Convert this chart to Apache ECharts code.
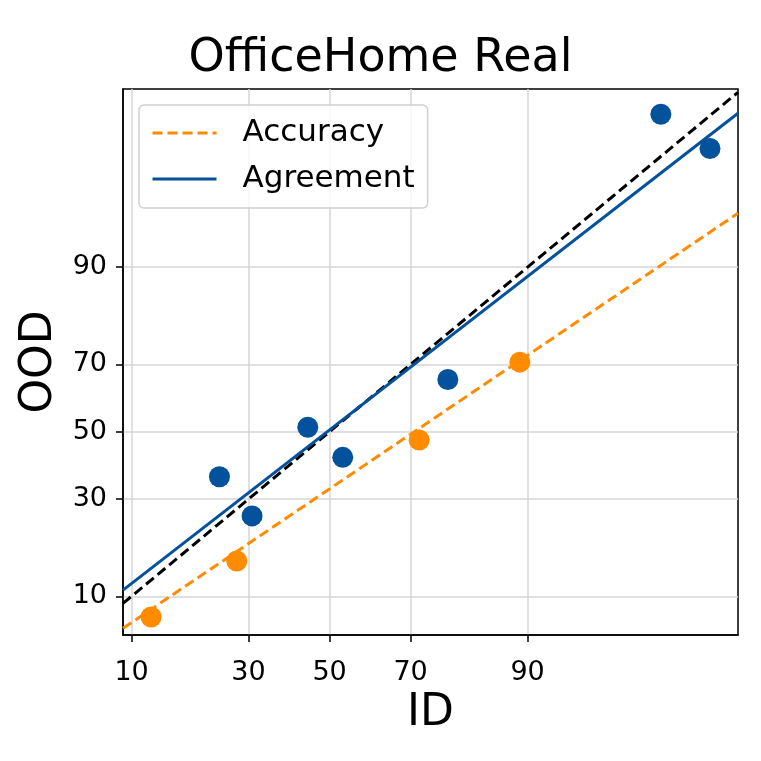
<!DOCTYPE html>
<html>
<head>
<meta charset="utf-8">
<script src="https://cdn.jsdelivr.net/npm/echarts@6/dist/echarts.min.js"></script>
<style>
  html, body { margin: 0; padding: 0; background: #fff; }
  #chart { width: 761px; height: 761px; }
</style>
</head>
<body>
<div id="chart"></div>
<script>
// values in percent, axes use a probit scale
var tickLabels = [10, 30, 50, 70, 90];
var xRange = [9.06, 99.59];
var yRange = [5.67, 99.62];

var agreeID  = [23.8, 30.8, 44.4, 53.4, 77.8, 98.4, 99.31];
var agreeOOD = [36.3, 25.6, 51.4, 42.1, 65.8, 99.33, 98.63];
var accID    = [12.4, 27.4, 71.9, 89.1];
var accOOD   = [7.45, 15.7, 47.4, 70.6];

// linear fits in probit space: [slope, intercept]
var accFit = [0.812, -0.445];
var agreeFit = [0.933, 0.014];

var BLUE = '#03529b';
var ORANGE = '#ff8c00';

function probit(p) {
    var a = [-3.969683028665376e+01, 2.209460984245205e+02, -2.759285104469687e+02, 1.383577518672690e+02, -3.066479806614716e+01, 2.506628277459239e+00];
    var b = [-5.447609879822406e+01, 1.615858368580409e+02, -1.556989798598866e+02, 6.680131188771972e+01, -1.328068155288572e+01];
    var c = [-7.784894002430293e-03, -3.223964580411365e-01, -2.400758277161838e+00, -2.549732539343734e+00, 4.374664141464968e+00, 2.938163982698783e+00];
    var d = [7.784695709041462e-03, 3.224671290700398e-01, 2.445134137142996e+00, 3.754408661907416e+00];
    var pl = 0.02425, q, r;
    if (p < pl) {
        q = Math.sqrt(-2 * Math.log(p));
        return (((((c[0]*q+c[1])*q+c[2])*q+c[3])*q+c[4])*q+c[5]) / ((((d[0]*q+d[1])*q+d[2])*q+d[3])*q+1);
    }
    if (p > 1 - pl) {
        q = Math.sqrt(-2 * Math.log(1 - p));
        return -(((((c[0]*q+c[1])*q+c[2])*q+c[3])*q+c[4])*q+c[5]) / ((((d[0]*q+d[1])*q+d[2])*q+d[3])*q+1);
    }
    q = p - 0.5; r = q * q;
    return (((((a[0]*r+a[1])*r+a[2])*r+a[3])*r+a[4])*r+a[5])*q / (((((b[0]*r+b[1])*r+b[2])*r+b[3])*r+b[4])*r+1);
}
function pr(v) { return probit(v / 100); }

var tickVals = tickLabels.map(pr);
function tickName(v) {
    var best = 0;
    for (var i = 1; i < tickVals.length; i++) {
        if (Math.abs(tickVals[i] - v) < Math.abs(tickVals[best] - v)) best = i;
    }
    return String(tickLabels[best]);
}

var xMin = pr(xRange[0]), xMax = pr(xRange[1]);
var yMin = pr(yRange[0]), yMax = pr(yRange[1]);

function fitLine(f) {
    return [[xMin, f[0] * xMin + f[1]], [xMax, f[0] * xMax + f[1]]];
}
function pts(xs, ys) {
    return xs.map(function (x, i) { return [pr(x), pr(ys[i])]; });
}

var font = 'DejaVu Sans';

function makeAxis(min, max, name, gap, labelMargin) {
    return {
        type: 'value',
        min: min,
        max: max,
        name: name,
        nameLocation: 'middle',
        nameGap: gap,
        nameTextStyle: { fontFamily: font, fontSize: 44, color: '#000' },
        axisLine: { show: true, onZero: false, lineStyle: { color: '#000', width: 1.5 } },
        axisTick: { show: true, length: 7, customValues: tickVals, lineStyle: { color: '#000', width: 1.5 } },
        axisLabel: {
            customValues: tickVals,
            formatter: tickName,
            margin: labelMargin,
            fontFamily: font, fontSize: 27, color: '#000'
        },
        splitLine: { show: true, lineStyle: { color: '#d6d6d6', width: 1.5 } }
    };
}

var chart = echarts.init(document.getElementById('chart'));
chart.setOption({
    animation: false,
    title: {
        text: 'OfficeHome Real',
        left: 'center',
        top: 31,
        textStyle: { fontFamily: font, fontSize: 46, fontWeight: 'normal', color: '#000' }
    },
    grid: {
        left: 123, right: 23, top: 89, bottom: 126,
        containLabel: false, outerBoundsMode: 'none',
        show: true, borderColor: '#000', borderWidth: 1.5
    },
    legend: {
        data: ['Accuracy', 'Agreement'],
        orient: 'vertical',
        left: 139, top: 105,
        padding: [11, 13, 12, 12],
        itemWidth: 64, itemHeight: 14, itemGap: 12,
        itemStyle: { opacity: 0 },
        lineStyle: { width: 3 },
        backgroundColor: 'rgba(255,255,255,0.8)',
        borderColor: '#d0d0d0', borderWidth: 1.5, borderRadius: 5,
        textStyle: { fontFamily: font, fontSize: 31, color: '#000', lineHeight: 34, padding: [0, 0, 0, 21] }
    },
    xAxis: makeAxis(xMin, xMax, 'ID', 57, 24),
    yAxis: makeAxis(yMin, yMax, 'OOD', 52, 16),
    series: [
        {
            name: 'y=x', type: 'line', symbol: 'none', z: 2,
            data: [[xMin, xMin], [xMax, xMax]],
            lineStyle: { color: '#000', width: 3, type: [10, 5] }
        },
        {
            name: 'Accuracy', type: 'line', symbol: 'none', z: 2,
            data: fitLine(accFit),
            lineStyle: { color: ORANGE, width: 3, type: [10, 5] },
            itemStyle: { color: ORANGE }
        },
        {
            name: 'Agreement', type: 'line', symbol: 'none', z: 2,
            data: fitLine(agreeFit),
            lineStyle: { color: BLUE, width: 3 },
            itemStyle: { color: BLUE }
        },
        {
            name: 'agreement points', type: 'scatter', z: 3,
            symbolSize: 21,
            data: pts(agreeID, agreeOOD),
            itemStyle: { color: BLUE, opacity: 1 }
        },
        {
            name: 'accuracy points', type: 'scatter', z: 3,
            symbolSize: 21,
            data: pts(accID, accOOD),
            itemStyle: { color: ORANGE, opacity: 1 }
        }
    ]
});
</script>
</body>
</html>
